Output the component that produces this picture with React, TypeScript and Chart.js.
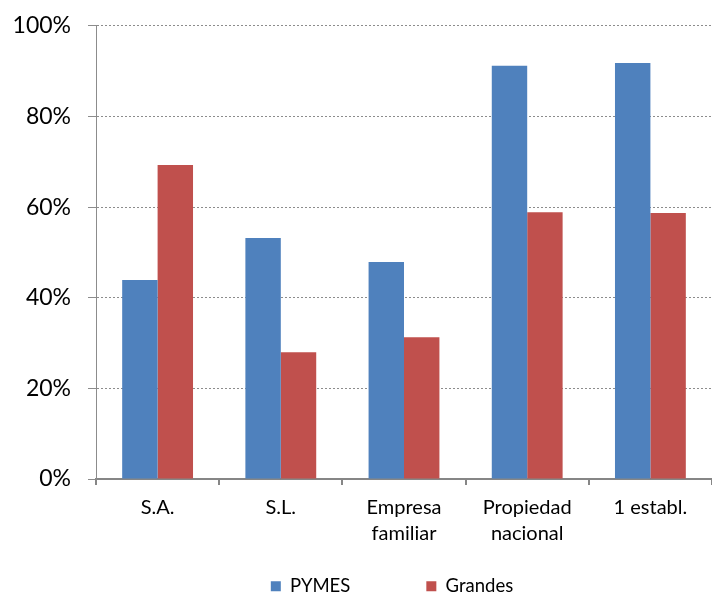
import React, { useEffect, useRef } from "react";
import { Chart, registerables } from "chart.js";

Chart.register(...registerables);

const categories: (string | string[])[] = [
  "S.A.",
  "S.L.",
  ["Empresa", "familiar"],
  ["Propiedad", "nacional"],
  "1 establ.",
];
const pymes = [43.9, 53.2, 47.9, 91.2, 91.8];
const grandes = [69.3, 28.0, 31.3, 58.9, 58.7];
const yTicks = [0, 20, 40, 60, 80, 100];

const FONT = "Lato, 'Open Sans', sans-serif";
const PLOT_BOTTOM = 479;
const BOTTOM_PAD = -64;
const LEGEND_PAD = 76;
const LEGEND_FONT = 18.5;
const LEGEND_TEXT_Y = 588;
const LEGEND_SHIFT_X = 36;

export default function App() {
  const ref = useRef<HTMLCanvasElement | null>(null);
  useEffect(() => {
    if (!ref.current) return;
    const chart = new Chart(ref.current, {
      type: "bar",
      data: {
        labels: categories,
        datasets: [
          {
            label: "PYMES",
            data: pymes,
            backgroundColor: "#4F81BD",
            borderWidth: 0,
            categoryPercentage: 0.575,
            barPercentage: 1,
          },
          {
            label: "Grandes",
            data: grandes,
            backgroundColor: "#C0504D",
            borderWidth: 0,
            categoryPercentage: 0.575,
            barPercentage: 1,
          },
        ],
      },
      options: {
        animation: false,
        responsive: false,
        maintainAspectRatio: false,
        layout: { padding: { top: 0, left: 0, right: 0, bottom: BOTTOM_PAD } },
        plugins: {
          tooltip: { enabled: false },
          legend: {
            position: "bottom",
            labels: {
              boxWidth: 10,
              boxHeight: 10,
              padding: LEGEND_PAD,
              color: "#000",
              font: { family: FONT, size: LEGEND_FONT },
            },
          },
        },
        scales: {
          x: {
            grid: {
              drawOnChartArea: false,
              drawTicks: true,
              tickLength: 6,
              color: "#868686",
              lineWidth: 2,
            },
            border: { color: "#868686", width: 2 },
            ticks: {
              color: "#000",
              font: { family: FONT, size: 20, lineHeight: 1.3 },
              padding: 10,
              maxRotation: 0,
              autoSkip: false,
            },
            afterFit: (s: any) => {
              const lh = s.chart.legend ? s.chart.legend.height : 0;
              s.height = 592 - BOTTOM_PAD - PLOT_BOTTOM - lh;
            },
          },
          y: {
            min: 0,
            max: 100,
            afterBuildTicks: (s: any) => {
              s.ticks = yTicks.map((v) => ({ value: v }));
            },
            grid: {
              color: "#8c8c8c",
              lineWidth: 1,
              tickLength: 8,
              drawTicks: true,
            },
            border: { color: "#8c8c8c", width: 1, dash: [2, 2] },
            ticks: {
              color: "#000",
              font: { family: FONT, size: 23, lineHeight: 0.78 },
              padding: 17,
              callback: (v: any) => v + "%",
            },
            afterFit: (s: any) => {
              s.width = 96;
            },
          },
        },
      },
      plugins: [
        {
          id: "placeLegend",
          afterLayout: (c: any) => {
            const lg = c.legend;
            if (!lg) return;
            const h = lg.height;
            const itemH = LEGEND_FONT * 1.2;
            lg.top = LEGEND_TEXT_Y - LEGEND_PAD - itemH / 2;
            lg.bottom = lg.top + h;
            lg.left += LEGEND_SHIFT_X;
            lg.right += LEGEND_SHIFT_X;
          },
        },
      ],
    });
    return () => chart.destroy();
  }, []);
  return (
    <div style={{ position: "absolute", left: 0, top: 0, width: 712, height: 592, background: "#fff" }}>
      <canvas ref={ref} width={712} height={592} />
    </div>
  );
}
